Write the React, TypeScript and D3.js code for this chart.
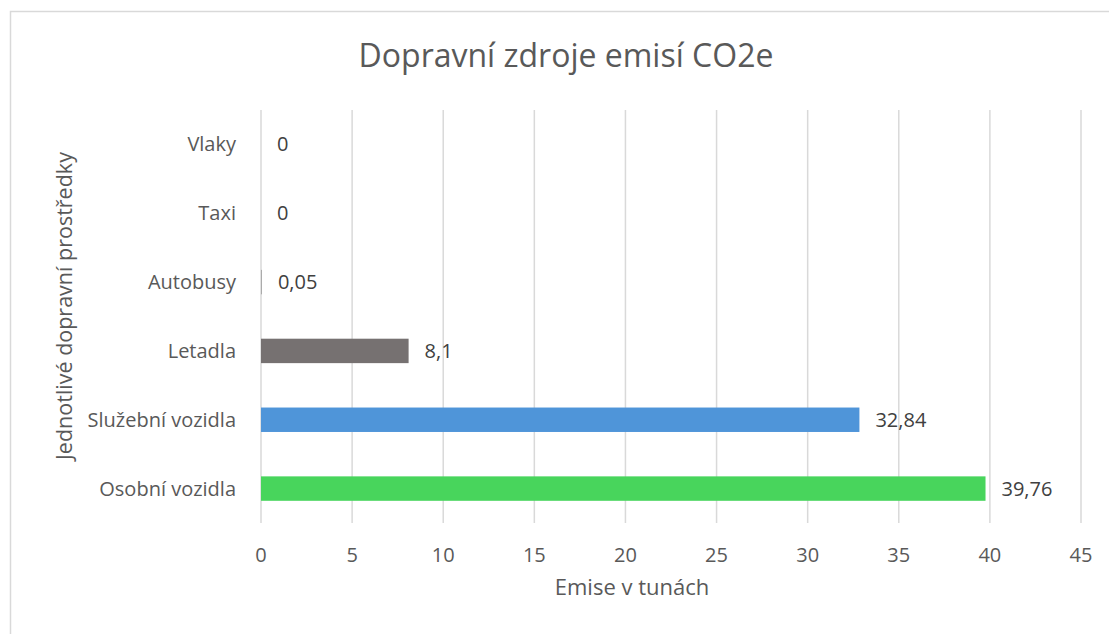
import { useEffect, useRef } from 'react';
import * as d3 from 'd3';

const categories = ['Osobní vozidla', 'Služební vozidla', 'Letadla', 'Autobusy', 'Taxi', 'Vlaky'];
const values = [39.76, 32.84, 8.1, 0.05, 0, 0];
const labels = ['39,76', '32,84', '8,1', '0,05', '0', '0'];
const colors = ['#48d55c', '#4f95d9', '#767171', '#a5a5a5', '#a5a5a5', '#a5a5a5'];
const ticks = [0, 5, 10, 15, 20, 25, 30, 35, 40, 45];

const W = 1109;
const H = 634;
const FONT = '"Open Sans", "Noto Sans", sans-serif';

const App = () => {
  const svgRef = useRef<SVGSVGElement | null>(null);

  useEffect(() => {
    const svg = d3.select(svgRef.current);
    svg.selectAll('*').remove();

    const x = d3.scaleLinear().domain([0, 45]).range([261, 1081]);
    // first category at the bottom, like Excel
    const y = d3.scaleBand().domain(categories.slice().reverse()).range([110, 523]).paddingInner(0.645).paddingOuter(0.3225);

    // chart border
    svg.append('rect')
      .attr('x', 10.5).attr('y', 11.5)
      .attr('width', W).attr('height', H)
      .attr('fill', 'none').attr('stroke', '#d9d9d9').attr('stroke-width', 1.5);

    svg.append('text')
      .attr('x', 566).attr('y', 67)
      .attr('text-anchor', 'middle')
      .style('font-family', FONT).style('font-size', '32px')
      .attr('fill', '#595959')
      .text('Dopravní zdroje emisí CO2e');

    // gridlines
    svg.append('g').selectAll('line')
      .data(ticks)
      .join('line')
        .attr('x1', d => x(d)).attr('x2', d => x(d))
        .attr('y1', 110).attr('y2', 523)
        .attr('stroke', '#d9d9d9').attr('stroke-width', 1.5);

    svg.append('g').selectAll('text')
      .data(ticks)
      .join('text')
        .attr('x', d => x(d)).attr('y', 562)
        .attr('text-anchor', 'middle')
        .style('font-family', FONT).style('font-size', '20px')
        .attr('fill', '#595959')
        .text(d => d);

    svg.append('g').selectAll('rect')
      .data(categories)
      .join('rect')
        .attr('x', x(0))
        .attr('y', d => y(d)!)
        .attr('width', (d, i) => x(values[i]) - x(0))
        .attr('height', y.bandwidth())
        .attr('fill', (d, i) => colors[i]);

    svg.append('g').selectAll('text')
      .data(categories)
      .join('text')
        .attr('x', 236)
        .attr('y', d => y(d)! + y.bandwidth() / 2 + 7)
        .attr('text-anchor', 'end')
        .style('font-family', FONT).style('font-size', '20px')
        .attr('fill', '#595959')
        .text(d => d);

    svg.append('g').selectAll('text')
      .data(categories)
      .join('text')
        .attr('x', (d, i) => x(values[i]) + 16)
        .attr('y', d => y(d)! + y.bandwidth() / 2 + 7)
        .style('font-family', FONT).style('font-size', '20px')
        .attr('fill', '#404040')
        .text((d, i) => labels[i]);

    svg.append('text')
      .attr('x', 632).attr('y', 595)
      .attr('text-anchor', 'middle')
      .style('font-family', FONT).style('font-size', '22px')
      .attr('fill', '#595959')
      .text('Emise v tunách');

    svg.append('text')
      .attr('transform', 'translate(72,306) rotate(-90)')
      .attr('text-anchor', 'middle')
      .style('font-family', FONT).style('font-size', '21.5px')
      .attr('fill', '#595959')
      .text('Jednotlivé dopravní prostředky');
  }, []);

  return (
    <svg ref={svgRef} width={W} height={H}
      style={{ position: 'absolute', left: 0, top: 0, background: '#fff' }} />
  );
};

export default App;
